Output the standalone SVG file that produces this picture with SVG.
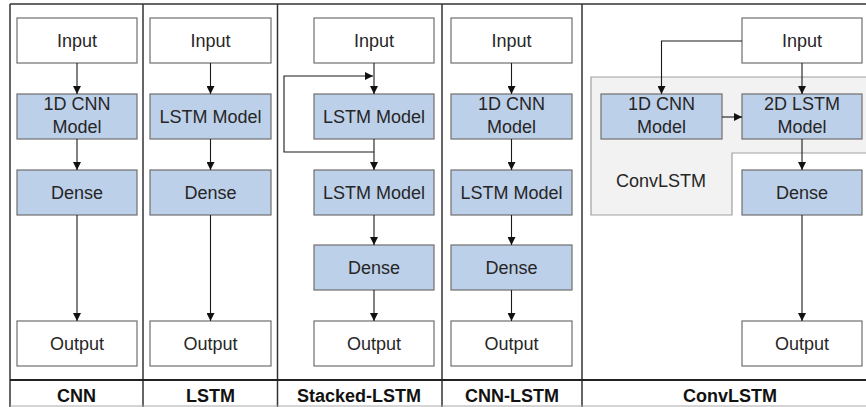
<svg xmlns="http://www.w3.org/2000/svg" width="866" height="407" viewBox="0 0 866 407">
<style>
  .box{stroke:#6e6e6e;stroke-width:1.2}
  .w{fill:#ffffff}
  .b{fill:#bdd0e9}
  .t{font-family:"Liberation Sans",Arial,sans-serif;font-size:18px;fill:#262626;text-anchor:middle}
  .h{font-family:"Liberation Sans",Arial,sans-serif;font-size:18px;font-weight:bold;fill:#111;text-anchor:middle}
  .c{fill:none;stroke:#1a1a1a;stroke-width:1.1}
  .grid{stroke:#333;stroke-width:1.5;fill:none}
</style>
<defs>
  <marker id="ah" viewBox="0 0 10 10" refX="10" refY="5" markerWidth="8" markerHeight="8" markerUnits="userSpaceOnUse" orient="auto">
    <path d="M0,0 L10,5 L0,10 Z" fill="#111"/>
  </marker>
</defs>
<rect width="866" height="407" fill="#ffffff"/>
<g id="table">
  <line class="grid" x1="10" y1="4" x2="866" y2="4" stroke="#555"/>
  <line class="grid" x1="10" y1="4" x2="10" y2="407"/>
  <line class="grid" x1="143" y1="4" x2="143" y2="407"/>
  <line class="grid" x1="277.5" y1="4" x2="277.5" y2="407"/>
  <line class="grid" x1="442" y1="4" x2="442" y2="407"/>
  <line class="grid" x1="582" y1="4" x2="582" y2="407"/>
  <line x1="10" y1="380" x2="866" y2="380" stroke="#222" stroke-width="2"/>
  <line x1="10" y1="406" x2="866" y2="406" stroke="#aaa" stroke-width="1"/>
</g>
<g id="convlstm-group">
  <path d="M591,77 H870 V153 H732 V215 H591 Z" fill="#f2f2f2" stroke="#a0a0a0" stroke-width="1.2"/>
  <text class="t" x="661" y="187">ConvLSTM</text>
</g>
<g id="cnn-input"><rect class="box w" x="17" y="18" width="120" height="45"/><text class="t" x="77" y="47">Input</text></g>
<g id="cnn-model"><rect class="box b" x="17" y="94" width="120" height="45"/><text class="t" x="77" y="110">1D CNN</text><text class="t" x="77" y="133">Model</text></g>
<g id="cnn-dense"><rect class="box b" x="17" y="170" width="120" height="45"/><text class="t" x="77" y="199">Dense</text></g>
<g id="cnn-output"><rect class="box w" x="17" y="321" width="120" height="45"/><text class="t" x="77" y="350">Output</text></g>

<g id="lstm-input"><rect class="box w" x="150" y="18" width="121" height="45"/><text class="t" x="210.5" y="47">Input</text></g>
<g id="lstm-model"><rect class="box b" x="150" y="94" width="121" height="45"/><text class="t" x="210.5" y="123">LSTM Model</text></g>
<g id="lstm-dense"><rect class="box b" x="150" y="170" width="121" height="45"/><text class="t" x="210.5" y="199">Dense</text></g>
<g id="lstm-output"><rect class="box w" x="150" y="321" width="121" height="45"/><text class="t" x="210.5" y="350">Output</text></g>

<g id="stacked-input"><rect class="box w" x="314" y="18" width="120" height="45"/><text class="t" x="374" y="47">Input</text></g>
<g id="stacked-lstm1"><rect class="box b" x="314" y="94" width="120" height="45"/><text class="t" x="374" y="123">LSTM Model</text></g>
<g id="stacked-lstm2"><rect class="box b" x="314" y="170" width="120" height="45"/><text class="t" x="374" y="199">LSTM Model</text></g>
<g id="stacked-dense"><rect class="box b" x="314" y="245" width="120" height="45"/><text class="t" x="374" y="274">Dense</text></g>
<g id="stacked-output"><rect class="box w" x="314" y="321" width="120" height="45"/><text class="t" x="374" y="350">Output</text></g>

<g id="cnnlstm-input"><rect class="box w" x="451" y="18" width="121" height="45"/><text class="t" x="511.5" y="47">Input</text></g>
<g id="cnnlstm-cnn"><rect class="box b" x="451" y="94" width="121" height="45"/><text class="t" x="511.5" y="110">1D CNN</text><text class="t" x="511.5" y="133">Model</text></g>
<g id="cnnlstm-lstm"><rect class="box b" x="451" y="170" width="121" height="45"/><text class="t" x="511.5" y="199">LSTM Model</text></g>
<g id="cnnlstm-dense"><rect class="box b" x="451" y="245" width="121" height="45"/><text class="t" x="511.5" y="274">Dense</text></g>
<g id="cnnlstm-output"><rect class="box w" x="451" y="321" width="121" height="45"/><text class="t" x="511.5" y="350">Output</text></g>

<g id="conv-input"><rect class="box w" x="742" y="18" width="120" height="45"/><text class="t" x="802" y="47">Input</text></g>
<g id="conv-cnn"><rect class="box b" x="601" y="94" width="121" height="45"/><text class="t" x="661.5" y="110">1D CNN</text><text class="t" x="661.5" y="133">Model</text></g>
<g id="conv-lstm"><rect class="box b" x="742" y="94" width="120" height="45"/><text class="t" x="802" y="110">2D LSTM</text><text class="t" x="802" y="133">Model</text></g>
<g id="conv-dense"><rect class="box b" x="742" y="170" width="120" height="45"/><text class="t" x="802" y="199">Dense</text></g>
<g id="conv-output"><rect class="box w" x="742" y="321" width="120" height="45"/><text class="t" x="802" y="350">Output</text></g>

<g id="connectors">
  <path class="c" d="M77,63 V94" marker-end="url(#ah)"/>
  <path class="c" d="M77,139 V170" marker-end="url(#ah)"/>
  <path class="c" d="M77,215 V321" marker-end="url(#ah)"/>

  <path class="c" d="M210.5,63 V94" marker-end="url(#ah)"/>
  <path class="c" d="M210.5,139 V170" marker-end="url(#ah)"/>
  <path class="c" d="M210.5,215 V321" marker-end="url(#ah)"/>

  <path class="c" d="M374,63 V94" marker-end="url(#ah)"/>
  <path class="c" d="M374,139 V170" marker-end="url(#ah)"/>
  <path class="c" d="M374,152 H284 V76 H373" marker-end="url(#ah)"/>
  <path class="c" d="M374,215 V245" marker-end="url(#ah)"/>
  <path class="c" d="M374,290 V321" marker-end="url(#ah)"/>

  <path class="c" d="M511.5,63 V94" marker-end="url(#ah)"/>
  <path class="c" d="M511.5,139 V170" marker-end="url(#ah)"/>
  <path class="c" d="M511.5,215 V245" marker-end="url(#ah)"/>
  <path class="c" d="M511.5,290 V321" marker-end="url(#ah)"/>

  <path class="c" d="M742,41 H661.5 V94" marker-end="url(#ah)"/>
  <path class="c" d="M802,63 V94" marker-end="url(#ah)"/>
  <path class="c" d="M722,117 H742" marker-end="url(#ah)"/>
  <path class="c" d="M802,139 V170" marker-end="url(#ah)"/>
  <path class="c" d="M802,215 V321" marker-end="url(#ah)"/>
</g>
<g id="labels">
  <text class="h" x="76.5" y="401.5">CNN</text>
  <text class="h" x="210.5" y="401.5">LSTM</text>
  <text class="h" x="359" y="401.5">Stacked-LSTM</text>
  <text class="h" x="512" y="401.5">CNN-LSTM</text>
  <text class="h" x="730" y="401.5">ConvLSTM</text>
</g>
</svg>
